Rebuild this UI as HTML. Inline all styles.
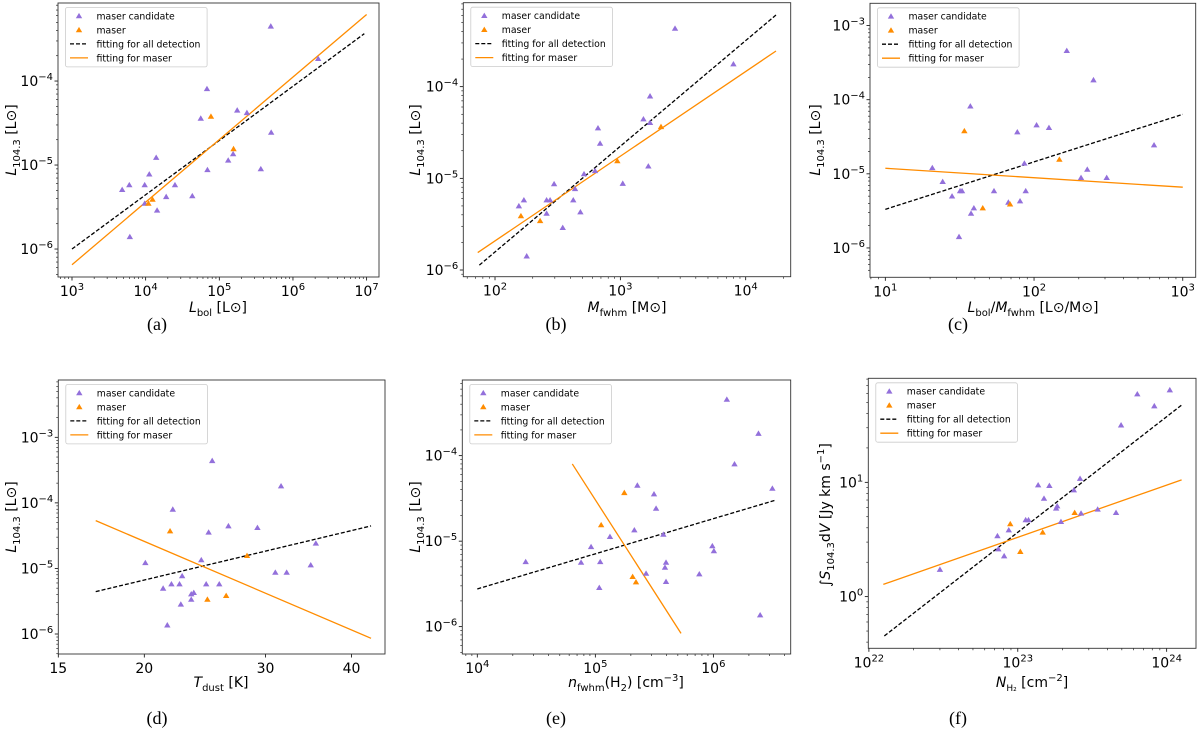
<!DOCTYPE html>
<html><head><meta charset="utf-8"><style>
html,body{margin:0;padding:0;background:#fff}
svg{display:block}
text{font-family:"DejaVu Sans","Liberation Sans",sans-serif;fill:#000}
</style></head><body>
<svg id="fig" width="1200" height="740" viewBox="0 0 1200 740" xmlns="http://www.w3.org/2000/svg"></svg>
<script>
// ---- panel (a) data ----
const aCandX=[4.8e3,6.0e3,6.1e3,9.7e3,9.7e3,1.12e4,1.39e4,1.43e4,1.9e4,2.5e4,4.3e4,5.6e4,6.8e4,6.9e4,1.32e5,1.54e5,1.75e5,2.37e5,3.66e5,5.0e5,5.06e5,2.2e6];
const aCandY=[5.1e-6,5.8e-6,1.4e-6,5.8e-6,3.5e-6,7.8e-6,1.23e-5,2.9e-6,4.2e-6,5.8e-6,4.3e-6,3.6e-5,8.1e-5,8.8e-6,1.14e-5,1.36e-5,4.5e-5,4.2e-5,9.0e-6,4.5e-4,2.45e-5,1.85e-4];
const aMaserX=[1.09e4,1.24e4,7.7e4,1.56e5];
const aMaserY=[3.5e-6,3.9e-6,3.8e-5,1.56e-5];
const aFitAllX=[1e3,9.3e6], aFitAllY=[1e-6,3.66e-4];
const aFitMaserX=[1e3,1e7], aFitMaserY=[6.5e-7,6.2e-4];
// ---- panel (b) data ----
const bCandX=[155,170,179,258,258,275,296,347,421,435,480,513,628,663,689,1045,1528,1672,1725,1725,2730,7980];
const bCandY=[5.0e-6,5.8e-6,1.42e-6,4.15e-6,5.8e-6,5.8e-6,8.7e-6,2.9e-6,5.8e-6,7.7e-6,4.3e-6,1.12e-5,1.21e-5,3.54e-5,2.41e-5,8.8e-6,4.44e-5,1.36e-5,4.05e-5,7.9e-5,4.33e-4,1.77e-4];
const bMaserX=[161,229,946,2110];
const bMaserY=[3.9e-6,3.45e-6,1.55e-5,3.66e-5];
const bFitAllX=[75,17450], bFitAllY=[1.13e-6,6.05e-4];
const bFitMaserX=[72.8,17450], bFitMaserY=[1.55e-6,2.45e-4];
// ---- panel (c) data ----
const cCandX=[20.7,24.3,28.1,31.8,32.8,31.3,37.3,37.7,39.4,53.8,67.2,77.2,80.5,86.1,87.9,104,126,166,207,228,251,308,641];
const cCandY=[1.21e-5,7.85e-6,5.0e-6,5.9e-6,5.9e-6,1.42e-6,8.2e-5,2.93e-6,3.46e-6,5.9e-6,4.13e-6,3.67e-5,4.3e-6,1.39e-5,5.9e-6,4.56e-5,4.2e-5,4.6e-4,8.9e-6,1.15e-5,1.85e-4,8.9e-6,2.45e-5];
const cMaserX=[34.0,45.2,69.0,148];
const cMaserY=[3.8e-5,3.46e-6,3.9e-6,1.57e-5];
const cFitAllX=[10,1000], cFitAllY=[3.32e-6,6.35e-5];
const cFitMaserX=[10,1000], cFitMaserY=[1.19e-5,6.6e-6];
// ---- panel (d) data ----
const dCandX=[20.07,21.3,21.6,21.9,22.0,22.5,22.6,22.7,23.4,23.4,23.6,24.2,24.6,24.8,25.1,25.7,26.5,29.2,31.0,31.6,32.2,34.9,35.5];
const dCandY=[1.22e-5,4.98e-6,1.37e-6,5.8e-6,7.98e-5,5.8e-6,2.84e-6,7.7e-6,3.38e-6,4.08e-6,4.28e-6,1.35e-5,5.8e-6,3.56e-5,4.4e-4,5.8e-6,4.45e-5,4.19e-5,8.7e-6,1.81e-4,8.7e-6,1.13e-5,2.42e-5];
const dMaserX=[21.8,24.7,26.3,28.2];
const dMaserY=[3.72e-5,3.38e-6,3.85e-6,1.57e-5];
const dFitAllX=[17.0,42.7], dFitAllY=[4.43e-6,4.45e-5];
const dFitMaserX=[17.0,42.7], dFitMaserY=[5.36e-5,8.6e-7];
// ---- panel (e) data ----
const eCandX=[2.57e4,7.57e4,9.2e4,1.1e5,1.08e5,1.33e5,2.14e5,2.27e5,2.69e5,3.14e5,3.27e5,3.77e5,3.89e5,3.97e5,3.97e5,7.6e5,9.8e5,1.01e6,1.3e6,1.51e6,2.41e6,2.49e6,3.16e6];
const eCandY=[5.75e-6,5.65e-6,8.6e-6,5.75e-6,2.86e-6,1.13e-5,1.35e-5,4.5e-5,4.2e-6,3.56e-5,2.42e-5,1.2e-5,4.94e-6,5.65e-6,3.36e-6,4.13e-6,8.8e-6,7.7e-6,4.56e-4,8.0e-5,1.82e-4,1.37e-6,4.15e-5];
const eMaserX=[1.12e5,1.76e5,2.07e5,2.21e5];
const eMaserY=[1.55e-5,3.69e-5,3.85e-6,3.33e-6];
const eFitAllX=[1e4,3.4e6], eFitAllY=[2.76e-6,3.03e-5];
const eFitMaserX=[6.38e4,5.32e5], eFitMaserY=[8.0e-5,8.35e-7];
// ---- panel (f) data ----
const fCandX=[3.0e22,7.3e22,7.4e22,8.1e22,8.7e22,1.13e23,1.18e23,1.37e23,1.50e23,1.63e23,1.81e23,1.84e23,1.95e23,2.38e23,2.62e23,2.66e23,3.44e23,4.57e23,4.94e23,6.35e23,8.26e23,1.05e24];
const fCandY=[1.73,3.40,2.61,2.27,3.83,4.69,4.69,9.48,7.24,9.35,5.93,6.21,4.53,8.57,10.8,5.36,5.81,5.43,31.7,59.3,46.6,64.3];
const fMaserX=[8.9e22,1.04e23,1.47e23,2.41e23];
const fMaserY=[4.33,2.48,3.66,5.43];
const fFitAllX=[1.27e22,1.26e24], fFitAllY=[0.453,47.4];
const fFitMaserX=[1.25e22,1.26e24], fFitMaserY=[1.28,10.5];
// ---- tick values ----
const aXTicks=[1e3,1e4,1e5,1e6,1e7], aYTicks=[1e-6,1e-5,1e-4];
const bXTicks=[1e2,1e3,1e4], bYTicks=[1e-6,1e-5,1e-4];
const cXTicks=[1e1,1e2,1e3], cYTicks=[1e-6,1e-5,1e-4,1e-3];
const dXTicks=[15,20,30,40], dXTickLabels=["15","20","30","40"], dYTicks=[1e-6,1e-5,1e-4,1e-3];
const eXTicks=[1e4,1e5,1e6], eYTicks=[1e-6,1e-5,1e-4];
const fXTicks=[1e22,1e23,1e24], fYTicks=[1,10];

const NS="http://www.w3.org/2000/svg";
const svg=document.getElementById('fig');
function mk(tag,attrs,parent){const e=document.createElementNS(NS,tag);for(const k in attrs)e.setAttribute(k,attrs[k]);(parent||svg).appendChild(e);return e;}
const L10=Math.log10;
function sup(t,base,exp){t.textContent='';const a=document.createElementNS(NS,'tspan');a.textContent=base;t.appendChild(a);const b=document.createElementNS(NS,'tspan');b.setAttribute('dy','-6');b.setAttribute('font-size','10');b.textContent=exp;t.appendChild(b);}
function expStr(v){const e=Math.round(L10(v));return (e<0?'\u2212'+(-e):''+e);}

function panel(id,g,d){
  const grp=mk('g',{});
  
  
  const sx=v=>g.L+(L10(v)-g.xlo)/(g.xhi-g.xlo)*(g.R-g.L);
  const sy=v=>g.B-(L10(v)-g.ylo)/(g.yhi-g.ylo)*(g.B-g.T);
  if(!g.noXMinor){for(let e=Math.floor(g.xlo);e<=Math.ceil(g.xhi);e++)for(let m=2;m<10;m++){const lv=e+L10(m);if(lv>g.xlo&&lv<g.xhi){const x=sx(Math.pow(10,lv));mk('line',{x1:x,x2:x,y1:g.B,y2:g.B+2,stroke:'#000','stroke-width':0.6},grp);}}}
  for(let e=Math.floor(g.ylo);e<=Math.ceil(g.yhi);e++)for(let m=2;m<10;m++){const lv=e+L10(m);if(lv>g.ylo&&lv<g.yhi){const y=sy(Math.pow(10,lv));mk('line',{x1:g.L-2,x2:g.L,y1:y,y2:y,stroke:'#000','stroke-width':0.6},grp);}}
  d.xt.forEach((v,i)=>{const x=sx(v);mk('line',{x1:x,x2:x,y1:g.B,y2:g.B+3.5,stroke:'#000','stroke-width':0.8},grp);
    const t=mk('text',{x:x,y:g.B+19,'text-anchor':'middle','font-size':14},grp);
    
    
    if(d.xtl)t.textContent=d.xtl[i];else sup(t,'10',expStr(v));});
  d.yt.forEach(v=>{const y=sy(v);mk('line',{x1:g.L-3.5,x2:g.L,y1:y,y2:y,stroke:'#000','stroke-width':0.8},grp);
    const t=mk('text',{x:g.L-5,y:y+5,'text-anchor':'end','font-size':14},grp);
    
    
    sup(t,'10',expStr(v));});
  const fa=mk('line',{x1:sx(d.fax[0]),y1:sy(d.fay[0]),x2:sx(d.fax[1]),y2:sy(d.fay[1]),stroke:'#000','stroke-width':1.3,'stroke-dasharray':'4,2'},grp);
  
  
  const fm=mk('line',{x1:sx(d.fmx[0]),y1:sy(d.fmy[0]),x2:sx(d.fmx[1]),y2:sy(d.fmy[1]),stroke:'#ff8c00','stroke-width':1.3},grp);
  
  
  const tri=(x,y,c,name)=>{const p=mk('polygon',{points:`${x},${y-3} ${x-3.2},${y+2.4} ${x+3.2},${y+2.4}`,fill:c},grp);
    
    };
  d.cx.forEach((v,i)=>tri(sx(v),sy(d.cy[i]),'#9370db','candidate-point'));
  d.mx.forEach((v,i)=>tri(sx(v),sy(d.my[i]),'#ff8c00','maser-point'));
  mk('rect',{x:g.L,y:g.T,width:g.R-g.L,height:g.B-g.T,fill:'none',stroke:'#333','stroke-width':0.9},grp);
  const lg=mk('g',{},grp);
  
  
  const lx=g.L+7.5,ly=g.T+4.5;
  mk('rect',{x:lx,y:ly,width:141.6,height:59.4,fill:'#fff','fill-opacity':0.85,stroke:'#ccc','stroke-width':0.8,rx:2},lg);
  const items=[['maser candidate','tri','#9370db'],['maser','tri','#ff8c00'],['fitting for all detection','dash','#000'],['fitting for maser','line','#ff8c00']];
  items.forEach((it,i)=>{const y=ly+8.4+i*14;
    if(it[1]=='tri')mk('polygon',{points:`${lx+13.5},${y-3} ${lx+10.3},${y+2.4} ${lx+16.7},${y+2.4}`,fill:it[2]},lg);
    else mk('line',{x1:lx+4.5,x2:lx+22.5,y1:y,y2:y,stroke:it[2],'stroke-width':1.3,'stroke-dasharray':it[1]=='dash'?'4,2':'none'},lg);
    const t=mk('text',{x:lx+31,y:y+3.5,'font-size':9.3},lg);t.textContent=it[0];
    
    });
  return grp;
}
panel('a',{L:58,R:379,T:3,B:277,xlo:2.810,xhi:7.168,ylo:-6.333,yhi:-3.071},{xt:aXTicks,yt:aYTicks,cx:aCandX,cy:aCandY,mx:aMaserX,my:aMaserY,fax:aFitAllX,fay:aFitAllY,fmx:aFitMaserX,fmy:aFitMaserY});
panel('b',{L:463.3,R:790.7,T:2.7,B:276.7,xlo:1.747,xhi:4.359,ylo:-6.073,yhi:-3.084},{xt:bXTicks,yt:bYTicks,cx:bCandX,cy:bCandY,mx:bMaserX,my:bMaserY,fax:bFitAllX,fay:bFitAllY,fmx:bFitMaserX,fmy:bFitMaserY});
panel('c',{L:870,R:1195.7,T:3.3,B:277.3,xlo:0.897,xhi:3.087,ylo:-6.396,yhi:-2.699},{xt:cXTicks,yt:cYTicks,cx:cCandX,cy:cCandY,mx:cMaserX,my:cMaserY,fax:cFitAllX,fay:cFitAllY,fmx:cFitMaserX,fmy:cFitMaserY});
panel('d',{L:58.3,R:385,T:380,B:654,xlo:1.1761,xhi:1.6507,ylo:-6.305,yhi:-2.126,noXMinor:true},{xt:dXTicks,xtl:dXTickLabels,yt:dYTicks,cx:dCandX,cy:dCandY,mx:dMaserX,my:dMaserY,fax:dFitAllX,fay:dFitAllY,fmx:dFitMaserX,fmy:dFitMaserY});
panel('e',{L:462.3,R:790.7,T:380,B:654,xlo:3.873,xhi:6.655,ylo:-6.320,yhi:-3.115},{xt:eXTicks,yt:eYTicks,cx:eCandX,cy:eCandY,mx:eMaserX,my:eMaserY,fax:eFitAllX,fay:eFitAllY,fmx:eFitMaserX,fmy:eFitMaserY});
panel('f',{L:868.3,R:1196,T:378.3,B:648.3,xlo:21.996,xhi:24.197,ylo:-0.452,yhi:1.910},{xt:fXTicks,yt:fYTicks,cx:fCandX,cy:fCandY,mx:fMaserX,my:fMaserY,fax:fFitAllX,fay:fFitAllY,fmx:fFitMaserX,fmy:fFitMaserY});
</script>
<svg width="1200" height="740" style="position:absolute;left:0;top:0" xmlns="http://www.w3.org/2000/svg">
<text font-size="14" transform="translate(16,140) rotate(-90)" text-anchor="middle"><tspan font-style="italic">L</tspan><tspan font-size="10" dy="4">104.3</tspan><tspan dy="-4"> [L⊙]</tspan></text>
<text font-size="14" transform="translate(420,140) rotate(-90)" text-anchor="middle"><tspan font-style="italic">L</tspan><tspan font-size="10" dy="4">104.3</tspan><tspan dy="-4"> [L⊙]</tspan></text>
<text font-size="14" transform="translate(820,140) rotate(-90)" text-anchor="middle"><tspan font-style="italic">L</tspan><tspan font-size="10" dy="4">104.3</tspan><tspan dy="-4"> [L⊙]</tspan></text>
<text font-size="14" transform="translate(16,517) rotate(-90)" text-anchor="middle"><tspan font-style="italic">L</tspan><tspan font-size="10" dy="4">104.3</tspan><tspan dy="-4"> [L⊙]</tspan></text>
<text font-size="14" transform="translate(420,517) rotate(-90)" text-anchor="middle"><tspan font-style="italic">L</tspan><tspan font-size="10" dy="4">104.3</tspan><tspan dy="-4"> [L⊙]</tspan></text>
<text font-size="14" transform="translate(830,515) rotate(-90)" text-anchor="middle">∫<tspan font-style="italic">S</tspan><tspan font-size="10" dy="4">104.3</tspan><tspan dy="-4">d</tspan><tspan font-style="italic">V</tspan> [Jy km s<tspan font-size="10" dy="-6">−1</tspan><tspan dy="6">]</tspan></text>
<text font-size="14" x="218" y="312" text-anchor="middle"><tspan font-style="italic">L</tspan><tspan font-size="10" dy="4">bol</tspan><tspan dy="-4">  [L⊙]</tspan></text>
<text font-size="14" x="627" y="312" text-anchor="middle"><tspan font-style="italic">M</tspan><tspan font-size="10" dy="4">fwhm</tspan><tspan dy="-4"> [M⊙]</tspan></text>
<text font-size="14" x="1033" y="312" text-anchor="middle"><tspan font-style="italic">L</tspan><tspan font-size="10" dy="4">bol</tspan><tspan dy="-4">/</tspan><tspan font-style="italic">M</tspan><tspan font-size="10" dy="4">fwhm</tspan><tspan dy="-4"> [L⊙/M⊙]</tspan></text>
<text font-size="14" x="221" y="687" text-anchor="middle"><tspan font-style="italic">T</tspan><tspan font-size="10" dy="4">dust</tspan><tspan dy="-4"> [K]</tspan></text>
<text font-size="14" x="626" y="687" text-anchor="middle"><tspan font-style="italic">n</tspan><tspan font-size="10" dy="4">fwhm</tspan><tspan dy="-4">(H</tspan><tspan font-size="10" dy="4">2</tspan><tspan dy="-4">) [cm</tspan><tspan font-size="10" dy="-6">−3</tspan><tspan dy="6">]</tspan></text>
<text font-size="14" x="1032" y="687" text-anchor="middle"><tspan font-style="italic">N</tspan><tspan font-size="9" dy="4">H₂</tspan><tspan dy="-4"> [cm</tspan><tspan font-size="10" dy="-6">−2</tspan><tspan dy="6">]</tspan></text>
<text x="157" y="330" text-anchor="middle" style="font-family:'Liberation Serif',serif;font-size:18px">(a)</text>
<text x="556" y="330" text-anchor="middle" style="font-family:'Liberation Serif',serif;font-size:18px">(b)</text>
<text x="958" y="330" text-anchor="middle" style="font-family:'Liberation Serif',serif;font-size:18px">(c)</text>
<text x="157" y="724" text-anchor="middle" style="font-family:'Liberation Serif',serif;font-size:18px">(d)</text>
<text x="556" y="724" text-anchor="middle" style="font-family:'Liberation Serif',serif;font-size:18px">(e)</text>
<text x="958" y="724" text-anchor="middle" style="font-family:'Liberation Serif',serif;font-size:18px">(f)</text>
</svg>
</body></html>
